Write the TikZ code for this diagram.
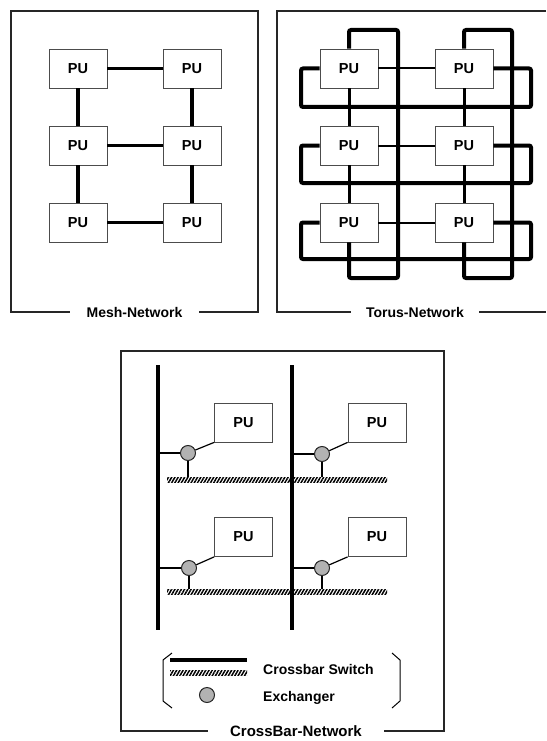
\documentclass[tikz,border=0pt]{standalone}
\usepackage{fontspec}
\setmainfont{Liberation Sans}
\usetikzlibrary{patterns.meta}

\begin{document}
\begin{tikzpicture}[x=1pt, y=-1pt,
  pu/.style={draw=black!70, line width=0.8pt, fill=white, minimum width=58pt, minimum height=39pt,
             inner sep=0pt, font=\fontsize{14.5}{16}\selectfont\bfseries},
  panel/.style={draw=black!85, line width=1.2pt},
  netlabel/.style={fill=white, inner xsep=17pt, inner ysep=3pt, font=\fontsize{14}{16}\selectfont\bfseries},
  mlink/.style={line width=3.5pt},
  tloop/.style={line width=4pt, rounded corners=2pt},
  tlink/.style={line width=2pt},
  tvlink/.style={line width=3pt},
  xbar/.style={fill=black, draw=none, minimum width=4pt, inner sep=0pt},
  hbus/.style={draw=none, inner sep=0pt, minimum height=5pt,
               pattern={Lines[angle=60, distance=2.8pt, line width=1.5pt]}},
  exch/.style={circle, draw=black!85, line width=1pt, fill=black!30, minimum size=15pt, inner sep=0pt},
  wire/.style={line width=1.2pt},
  bracket/.style={line width=1pt},
  legtext/.style={anchor=west, inner sep=0pt, font=\fontsize{14}{16}\selectfont\bfseries}
]
\useasboundingbox (0,0) rectangle (546,741);

% Mesh-Network
\draw[panel] (11,11) rectangle (258,312);
\node[netlabel] (meshlbl) at (134.5,312) {Mesh-Network};
\node[pu] (m11) at (78,68.5)  {PU};
\node[pu] (m12) at (192,68.5) {PU};
\node[pu] (m21) at (78,145.5) {PU};
\node[pu] (m22) at (192,145.5) {PU};
\node[pu] (m31) at (78,222.5) {PU};
\node[pu] (m32) at (192,222.5) {PU};
\draw[mlink] (m11) -- (m12);
\draw[mlink] (m21) -- (m22);
\draw[mlink] (m31) -- (m32);
\draw[mlink] (m11) -- (m21);
\draw[mlink] (m21) -- (m31);
\draw[mlink] (m12) -- (m22);
\draw[mlink] (m22) -- (m32);

% Torus-Network
\draw[panel] (546,11) -- (277,11) -- (277,312) -- (546,312);
\node[netlabel, inner xsep=15pt] (toruslbl) at (415,312) {Torus-Network};
\node[pu] (t11) at (349,68.5)  {PU};
\node[pu] (t12) at (464,68.5)  {PU};
\node[pu] (t21) at (349,145.5) {PU};
\node[pu] (t22) at (464,145.5) {PU};
\node[pu] (t31) at (349,222.5) {PU};
\node[pu] (t32) at (464,222.5) {PU};
\draw[tlink] (t11) -- (t12);
\draw[tlink] (t21) -- (t22);
\draw[tlink] (t31) -- (t32);
\draw[tvlink] (t11) -- (t21);
\draw[tvlink] (t21) -- (t31);
\draw[tvlink] (t12) -- (t22);
\draw[tvlink] (t22) -- (t32);
% wrap-around rows
\draw[tloop] (t11.west) -- (301,68.5) -- (301,107) -- (531,107) -- (531,68.5) -- (t12.east);
\draw[tloop] (t21.west) -- (301,145.5) -- (301,183) -- (531,183) -- (531,145.5) -- (t22.east);
\draw[tloop] (t31.west) -- (301,222.5) -- (301,259) -- (531,259) -- (531,222.5) -- (t32.east);
% wrap-around columns
\draw[tloop] (t11.north) -- (349,30) -- (398,30) -- (398,278) -- (349,278) -- (t31.south);
\draw[tloop] (t12.north) -- (464,30) -- (512,30) -- (512,278) -- (464,278) -- (t32.south);

% CrossBar-Network
\draw[panel] (121,351) rectangle (444,731);
\node[netlabel, inner xsep=22pt, font=\fontsize{15}{17}\selectfont\bfseries] (xbarlbl) at (296,731) {CrossBar-Network};
\node[xbar, minimum height=265pt] (bar1) at (158,497.5) {};
\node[xbar, minimum height=265pt] (bar2) at (292,497.5) {};
\node[hbus, minimum width=220pt] (bus1) at (277,480) {};
\node[hbus, minimum width=220pt] (bus2) at (277,592) {};
\node[pu] (p11) at (243.5,422.5) {PU};
\node[pu] (p12) at (377,422.5)   {PU};
\node[pu] (p21) at (243.5,537)   {PU};
\node[pu] (p22) at (377,537)     {PU};
\node[exch] (x11) at (188,453) {};
\node[exch] (x12) at (322,454) {};
\node[exch] (x21) at (189,568) {};
\node[exch] (x22) at (322,568) {};
\foreach \x/\b/\s/\p in {x11/bar1/bus1/p11, x12/bar2/bus1/p12, x21/bar1/bus2/p21, x22/bar2/bus2/p22}{
  \draw[wire] (\x.west) -- (\x.west -| \b.east);
  \draw[wire] (\x) -- (\p.south west);
  \draw[wire] (\x.south) -- (\x.south |- \s.north);
}

% legend
\draw[bracket] (172,653) -- (163,660) -- (163,701) -- (172,708);
\draw[bracket] (392,653) -- (400,660) -- (400,701) -- (392,708);
\coordinate (lg1) at (170,660);
\coordinate (lg2) at (247,660);
\draw[line width=4pt] (lg1) -- (lg2);
\node[hbus, minimum width=77pt] (lgbus) at (208.5,673) {};
\node[exch] (lgx) at (207,695) {};
\node[legtext] (lgswitch) at (263,669) {Crossbar Switch};
\node[legtext] (lgexch) at (263,698) {Exchanger};
\end{tikzpicture}
\end{document}
